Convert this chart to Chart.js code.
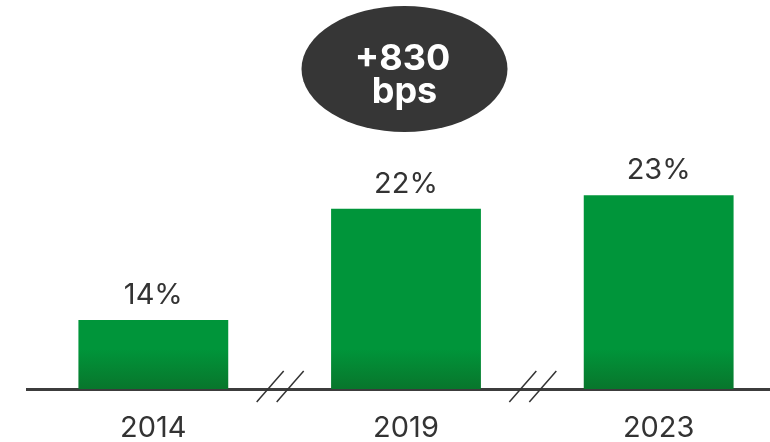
<!DOCTYPE html>
<html>
<head>
<meta charset="utf-8">
<script src="https://cdn.jsdelivr.net/npm/chart.js@4/dist/chart.umd.min.js"></script>
<style>
  html, body { margin: 0; padding: 0; background: #fff; overflow: hidden; }
  /* plot area runs on past the right edge of the frame, as in the original */
  #wrap { width: 785px; height: 442px; position: relative; }
</style>
</head>
<body>
<div id="wrap"><canvas id="chart"></canvas></div>
<script>
// years on the axis
const years = ['2014', '2019', '2023']
// share values (labels show the rounded %)
const shares = [14.4, 21.8, 22.7]
// callout over the middle bar
const calloutLines = ['+830', 'bps']

const green = 'rgb(0, 149, 58)'
const greenDark = 'rgb(8, 118, 44)'
const ink = '#333333'

function barFill(context) {
  let area = context.chart.chartArea
  if (!area) return green
  let g = context.chart.ctx.createLinearGradient(0, area.bottom - 40, 0, area.bottom)
  g.addColorStop(0, green)
  g.addColorStop(1, greenDark)
  return g
}

// value labels above bars, the "//" axis breaks and the callout bubble
const extras = {
  id: 'extras',
  afterDatasetsDraw(chart) {
    let ctx = chart.ctx
    let meta = chart.getDatasetMeta(0)
    let area = chart.chartArea

    ctx.save()
    ctx.fillStyle = ink
    ctx.font = '400 29px Inter, "Open Sans", sans-serif'
    ctx.textAlign = 'center'
    ctx.textBaseline = 'alphabetic'
    meta.data.forEach((bar, i) => {
      ctx.fillText(Math.round(shares[i]) + '%', bar.x, bar.y - 16)
    })

    // axis breaks between bars
    ctx.strokeStyle = ink
    ctx.lineWidth = 1.5
    for (let i = 0; i < meta.data.length - 1; i++) {
      let mid = (meta.data[i].x + meta.data[i + 1].x) / 2
      let y0 = area.bottom + 13
      let y1 = area.bottom - 18
      ;[-12, 8].forEach((dx) => {
        ctx.beginPath()
        ctx.moveTo(mid + dx - 11, y0)
        ctx.lineTo(mid + dx + 16, y1)
        ctx.stroke()
      })
    }

    // callout above 2019
    let cx = meta.data[1].x - 1.5
    let cy = area.top + 59
    ctx.fillStyle = '#363636'
    ctx.beginPath()
    ctx.ellipse(cx, cy, 103, 63, 0, 0, Math.PI * 2)
    ctx.fill()
    ctx.fillStyle = '#ffffff'
    ctx.font = '700 36px Inter, "Open Sans", sans-serif'
    ctx.fillText(calloutLines[0], cx - 2, cy + 1)
    ctx.fillText(calloutLines[1], cx, cy + 34)
    ctx.restore()
  },
}

new Chart(document.getElementById('chart'), {
  type: 'bar',
  data: {
    labels: years,
    datasets: [{
      data: shares,
      backgroundColor: barFill,
      borderWidth: 0,
      categoryPercentage: 1,
      barPercentage: 0.593,
    }],
  },
  options: {
    responsive: true,
    maintainAspectRatio: false,
    animation: false,
    devicePixelRatio: 1,
    layout: {
      padding: {left: 27, right: 0, top: 10, bottom: 0},
    },
    plugins: {
      legend: {display: false},
      tooltip: {enabled: false},
    },
    scales: {
      x: {
        grid: {display: true, drawOnChartArea: false, drawTicks: false},
        border: {display: true, color: '#3c3c3c', width: 3},
        ticks: {
          color: ink,
          padding: 24.5,
          font: {family: 'Inter, "Open Sans", sans-serif', size: 29, lineHeight: 1},
        },
        afterFit(scale) {
          scale.height = 53
        },
      },
      y: {
        display: false,
        min: 9.82,
        max: 35,
      },
    },
  },
  plugins: [extras],
})
</script>
</body>
</html>
